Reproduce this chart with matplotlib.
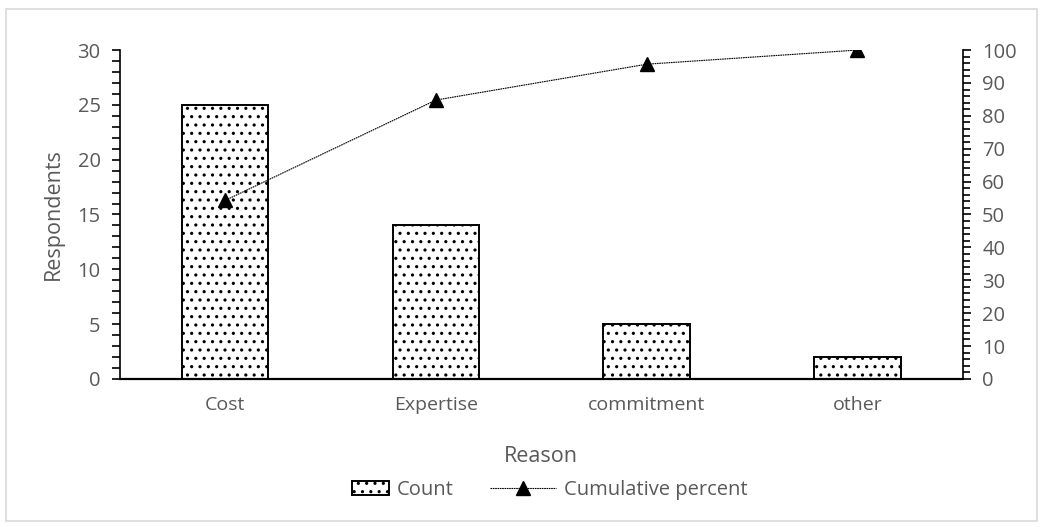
import matplotlib.pyplot as plt
from matplotlib.patches import Rectangle
from matplotlib.legend_handler import HandlerPatch
from matplotlib.ticker import MultipleLocator

reasons = ["Cost", "Expertise", "commitment", "other"]
counts = [25, 14, 5, 2]
cumulative_pct = [54.3, 84.8, 95.7, 100.0]

plt.rcParams["font.family"] = ["Open Sans", "DejaVu Sans"]
plt.rcParams["hatch.linewidth"] = 1.1
grey = "#595959"

fig = plt.figure(figsize=(10.43, 5.27), dpi=100)
fig.patches.append(Rectangle((0.006, 0.012), 0.988, 0.97, transform=fig.transFigure,
                             fill=False, edgecolor="#d9d9d9", linewidth=1.2))

ax = fig.add_axes([0.115, 0.281, 0.808, 0.624])
x = range(len(reasons))
bars = ax.bar(x, counts, width=0.41, color="white", edgecolor="black",
              linewidth=1.4, hatch="..", zorder=2)
ax.set_xlim(-0.5, len(reasons) - 0.5)
ax.set_ylim(0, 30)
ax.set_xticks(list(x))
ax.set_xticklabels(reasons)
ax.yaxis.set_major_locator(MultipleLocator(5))
ax.yaxis.set_minor_locator(MultipleLocator(1))
ax.tick_params(axis="x", length=0, pad=12, labelsize=14, labelcolor=grey)
ax.tick_params(axis="y", which="both", direction="out", length=6, width=1.2,
               labelsize=14.5, labelcolor=grey, pad=8)
for side in ("top", "right"):
    ax.spines[side].set_visible(False)
ax.spines["left"].set_linewidth(1.2)
ax.spines["bottom"].set_linewidth(1.6)
ax.set_xlabel("Reason", fontsize=15.5, color=grey, labelpad=23)
ax.set_ylabel("Respondents", fontsize=15.5, color=grey, labelpad=10)

ax2 = ax.twinx()
(cum_line,) = ax2.plot(list(x), cumulative_pct, color="black", linewidth=0.8,
                       linestyle=(0, (1.5, 0.6)), marker="^", markersize=10,
                       markerfacecolor="black", zorder=3)
ax2.set_ylim(0, 100)
ax2.yaxis.set_major_locator(MultipleLocator(10))
ax2.yaxis.set_minor_locator(MultipleLocator(2))
ax2.tick_params(axis="y", which="both", direction="out", length=6, width=1.2,
                labelsize=14.5, labelcolor=grey, pad=8)
ax2.tick_params(axis="y", which="minor", length=5)
for side in ("top", "left", "bottom"):
    ax2.spines[side].set_visible(False)
ax2.spines["right"].set_linewidth(1.2)


def short_box(legend, orig_handle, xdescent, ydescent, width, height, fontsize):
    # narrower swatch for the bar entry, right-aligned in the handle box
    w = width * 0.55
    return Rectangle((width - w - xdescent, -ydescent), w, height)


bar_handle = bars.patches[0]
fig.legend([bar_handle, cum_line], ["Count", "Cumulative percent"],
           loc="center", bbox_to_anchor=(0.513, 0.07),
           ncol=2, frameon=False, fontsize=14.5, labelcolor=grey,
           handlelength=3.3, handleheight=0.7, handletextpad=0.4,
           columnspacing=1.8,
           handler_map={bar_handle: HandlerPatch(patch_func=short_box)})

fig.savefig("out.png", dpi=100)
